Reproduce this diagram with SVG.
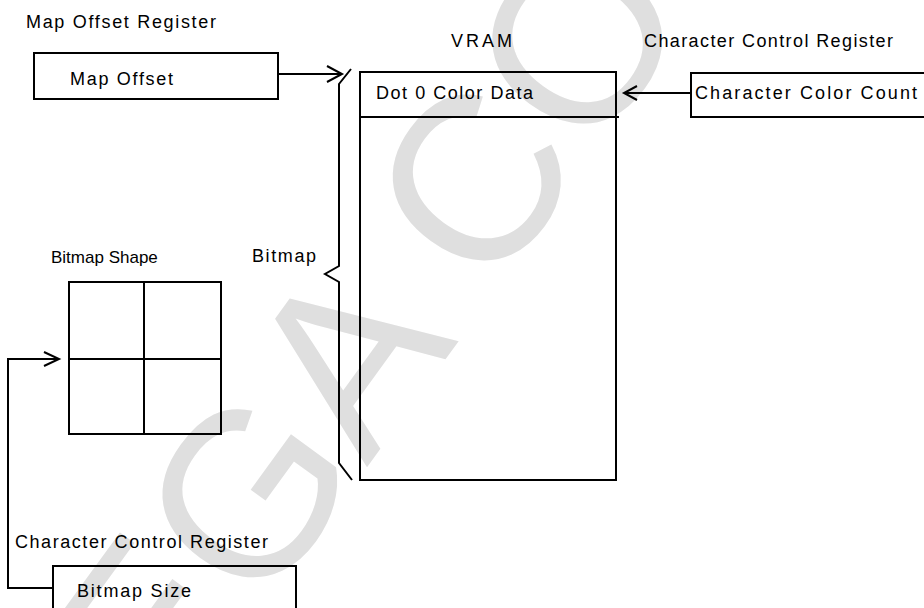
<svg xmlns="http://www.w3.org/2000/svg" width="924" height="608" viewBox="0 0 924 608">
<style>
.t{font-family:"Liberation Sans",Arial,sans-serif;font-size:18px;fill:#000}
.b{fill:none;stroke:#000;stroke-width:2}
.wm{font-family:"Liberation Sans",Arial,sans-serif;font-size:235px;fill:#dfdfdf}
</style>
<rect width="924" height="608" fill="#fff"/>
<g id="watermark">
<text class="wm" transform="translate(75,869) rotate(-54)">SEGA CONFIDENTIAL</text>
</g>
<g id="map-offset-register">
<text class="t" x="26" y="28" textLength="190" lengthAdjust="spacing">Map Offset Register</text>
<rect class="b" x="34" y="53" width="244" height="46"/>
<text class="t" x="70" y="85" textLength="103" lengthAdjust="spacing">Map Offset</text>
</g>
<g id="vram">
<text class="t" x="451" y="47" textLength="61" lengthAdjust="spacing">VRAM</text>
<rect class="b" x="360" y="72" width="256" height="408"/>
<line class="b" x1="360" y1="117" x2="619" y2="117"/>
<text class="t" x="376" y="99" textLength="157" lengthAdjust="spacing">Dot 0 Color Data</text>
</g>
<g id="character-color-count">
<text class="t" x="644" y="47" textLength="249" lengthAdjust="spacing">Character Control Register</text>
<rect class="b" x="691" y="73" width="260" height="44"/>
<text class="t" x="695" y="99" textLength="222" lengthAdjust="spacing">Character Color Count</text>
</g>
<g id="bitmap-shape">
<text class="t" x="51" y="263" style="font-size:17px">Bitmap Shape</text>
<rect class="b" x="69" y="282" width="152" height="152"/>
<line class="b" x1="144" y1="282" x2="144" y2="434"/>
<line class="b" x1="69" y1="359" x2="221" y2="359"/>
</g>
<g id="bitmap-size">
<text class="t" x="15" y="548" textLength="253" lengthAdjust="spacing">Character Control Register</text>
<rect class="b" x="53" y="566" width="243" height="60"/>
<text class="t" x="77" y="597" textLength="114" lengthAdjust="spacing">Bitmap Size</text>
</g>
<g id="bitmap-brace">
<text class="t" x="252" y="262" textLength="64" lengthAdjust="spacing">Bitmap</text>
<polyline class="b" points="351,69 339,84 339,266 325,274 339,282 339,463 352,480"/>
</g>
<g id="connectors">
<line class="b" x1="278" y1="74" x2="342" y2="74"/>
<polyline class="b" points="327,66 342,74 327,82"/>
<line class="b" x1="691" y1="93" x2="624" y2="93"/>
<polyline class="b" points="637,86 624,93 637,100"/>
<polyline class="b" points="53,588 8,588 8,359 59,359"/>
<polyline class="b" points="44,352 59,359 44,366"/>
</g>
</svg>
